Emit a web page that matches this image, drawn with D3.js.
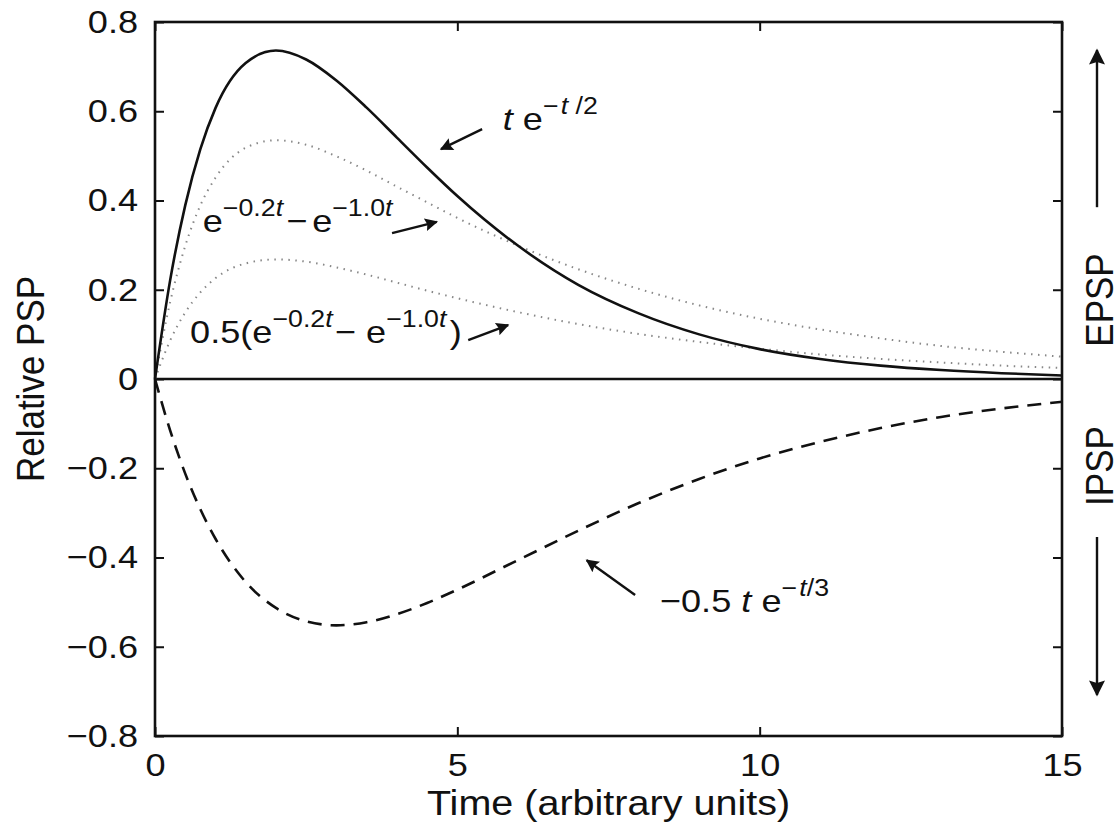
<!DOCTYPE html>
<html>
<head>
  <meta charset="utf-8">
  <title>PSP shapes</title>
  <script src="https://cdn.jsdelivr.net/npm/d3@7"></script>
  <style>
    body { margin: 0; background: #fff; }
    svg { overflow: visible; }
    text { font-family: "Liberation Sans", Arial, sans-serif; fill: #111; }
  </style>
</head>
<body>
  <svg width="1117" height="835" id="mainsvg"></svg>
  <script>
    // values
    const timePoints = [0, 0.25, 0.5, 0.75, 1, 1.5, 2, 2.5, 3, 3.5, 4, 4.5, 5, 6, 7, 8, 9, 10, 11, 12, 13, 14, 15];
    const alphaPsp = [0, 0.221, 0.389, 0.515, 0.607, 0.708, 0.736, 0.716, 0.669, 0.608, 0.541, 0.474, 0.410, 0.299, 0.211, 0.147, 0.100, 0.067, 0.045, 0.030, 0.020, 0.013, 0.008];
    const dualExpPsp = [0, 0.172, 0.298, 0.389, 0.451, 0.518, 0.535, 0.525, 0.499, 0.467, 0.431, 0.396, 0.361, 0.299, 0.246, 0.202, 0.165, 0.135, 0.111, 0.091, 0.074, 0.061, 0.050];
    const halfDualExpPsp = [0, 0.086, 0.149, 0.194, 0.226, 0.259, 0.268, 0.263, 0.250, 0.234, 0.216, 0.198, 0.181, 0.150, 0.123, 0.101, 0.083, 0.068, 0.055, 0.045, 0.037, 0.030, 0.025];
    const ipspValues = [0, -0.115, -0.212, -0.292, -0.358, -0.455, -0.513, -0.543, -0.552, -0.545, -0.527, -0.502, -0.472, -0.406, -0.340, -0.278, -0.224, -0.178, -0.141, -0.110, -0.085, -0.066, -0.051];
    const xTicks = [0, 5, 10, 15];
    const yTicks = [-0.8, -0.6, -0.4, -0.2, 0, 0.2, 0.4, 0.6, 0.8];
    const yTickLabels = ['\u22120.8', '\u22120.6', '\u22120.4', '\u22120.2', '0', '0.2', '0.4', '0.6', '0.8'];

    const svg = d3.select('svg');
    const width = +svg.attr('width');
    const height = +svg.attr('height');
    const margin = { top: 22, right: 55, bottom: 99, left: 155 };
    const innerWidth = width - margin.left - margin.right;
    const innerHeight = height - margin.top - margin.bottom;
    const SX = 1.13; // the figure's text is a bit stretched sideways

    const x = d3.scaleLinear().domain([0, 15]).range([0, innerWidth]);
    const y = d3.scaleLinear().domain([-0.8, 0.8]).range([innerHeight, 0]);

    const g = svg.append('g')
      .attr('transform', `translate(${margin.left}, ${margin.top})`);

    // axes, ticks pointing inward
    const styleAxis = sel => {
      sel.select('.domain').remove();
      sel.selectAll('line').attr('stroke', '#111').attr('stroke-width', 2);
      sel.selectAll('text').attr('font-size', 32).attr('font-family', null).attr('fill', '#111')
        .attr('transform', `scale(${SX},1)`);
    };
    g.append('g').attr('transform', `translate(0, ${innerHeight})`)
      .call(d3.axisBottom(x).tickValues(xTicks).tickSize(-9).tickPadding(17).tickFormat(d3.format('d')))
      .call(styleAxis);
    g.append('g')
      .call(d3.axisTop(x).tickValues(xTicks).tickSize(-9).tickFormat(''))
      .call(styleAxis);
    g.append('g')
      .call(d3.axisLeft(y).tickValues(yTicks).tickSize(-9).tickPadding(15).tickFormat((d, i) => yTickLabels[i]))
      .call(styleAxis);
    g.append('g').attr('transform', `translate(${innerWidth}, 0)`)
      .call(d3.axisRight(y).tickValues(yTicks).tickSize(-9).tickFormat(''))
      .call(styleAxis);

    // zero line
    g.append('line')
      .attr('x1', 0).attr('x2', innerWidth)
      .attr('y1', y(0)).attr('y2', y(0))
      .attr('stroke', '#111').attr('stroke-width', 2.5);

    const line = d3.line()
      .x((d, i) => x(timePoints[i]))
      .y(d => y(d))
      .curve(d3.curveMonotoneX);

    const series = [
      { values: dualExpPsp, color: '#888', width: 2, dash: '1.5,5.5' },
      { values: halfDualExpPsp, color: '#888', width: 2, dash: '1.5,5.5' },
      { values: alphaPsp, color: '#111', width: 2.6, dash: null },
      { values: ipspValues, color: '#111', width: 2.6, dash: '14,9' }
    ];
    g.selectAll('.curve')
      .data(series)
      .join('path')
      .attr('class', 'curve')
      .attr('d', d => line(d.values))
      .attr('fill', 'none')
      .attr('stroke', d => d.color)
      .attr('stroke-width', d => d.width)
      .attr('stroke-dasharray', d => d.dash);

    // frame
    g.append('rect')
      .attr('width', innerWidth).attr('height', innerHeight)
      .attr('fill', 'none').attr('stroke', '#111').attr('stroke-width', 2.6);

    // arrowhead markers
    const defs = svg.append('defs');
    const addHead = (id, w, h) => defs.append('marker')
      .attr('id', id)
      .attr('viewBox', '0 0 10 10')
      .attr('refX', 9).attr('refY', 5)
      .attr('markerUnits', 'userSpaceOnUse')
      .attr('markerWidth', w).attr('markerHeight', h)
      .attr('orient', 'auto')
      .append('path').attr('d', 'M0,0 L10,5 L0,10 L1.5,5 Z').attr('fill', '#111');
    addHead('head', 19, 13);
    addHead('bighead', 23, 16);

    const arrow = (x1, y1, x2, y2, head = 'head') => g.append('line')
      .attr('x1', x1).attr('y1', y1).attr('x2', x2).attr('y2', y2)
      .attr('stroke', '#111').attr('stroke-width', 2.4)
      .attr('marker-end', `url(#${head})`);

    // text pieces: [string, superscript?, italic?, dx]
    const label = (px, py, parts, size = 32) => {
      const t = g.append('text')
        .attr('transform', `translate(${px}, ${py}) scale(${SX},1)`)
        .attr('font-size', size);
      let up = false;
      parts.forEach(([s, sup, ital, dx]) => {
        const sp = t.append('tspan').text(s);
        if (sup && !up) { sp.attr('dy', -16); up = true; }
        if (!sup && up) { sp.attr('dy', 16); up = false; }
        if (sup) sp.attr('font-size', size * 0.74);
        if (ital) sp.attr('font-style', 'italic');
        if (dx) sp.attr('dx', dx);
      });
      return t;
    };

    // annotations anchored in data units
    label(x(5.75), y(0.558), [['t', 0, 1], [' e', 0, 0], ['\u2212', 1, 0], ['t', 1, 1, 2], [' /2', 1, 0]]);
    arrow(x(5.41), y(0.56), x(4.73), y(0.515));

    label(x(0.79), y(0.329), [['e', 0, 0], ['\u22120.2', 1, 0], ['t', 1, 1], ['\u2212', 0, 0, 3], ['e', 0, 0, 4], ['\u22121.0', 1, 0], ['t', 1, 1]]);
    arrow(x(3.92), y(0.327), x(4.66), y(0.352));

    label(x(0.58), y(0.081), [['0.5(e', 0, 0], ['\u22120.2', 1, 0], ['t', 1, 1], ['\u2212', 0, 0, 2], [' e', 0, 0], ['\u22121.0', 1, 0], ['t', 1, 1], [')', 0, 0, 3]]);
    arrow(x(5.18), y(0.087), x(5.84), y(0.121));

    label(x(8.35), y(-0.522), [['\u22120.5 ', 0, 0], ['t', 0, 1], [' e', 0, 0], ['\u2212', 1, 0], ['t', 1, 1, 2], ['/3', 1, 0]]);
    arrow(x(7.94), y(-0.484), x(7.14), y(-0.406));

    // axis titles
    svg.append('text')
      .attr('transform', `translate(${margin.left + innerWidth / 2}, 815) scale(${SX},1)`)
      .attr('text-anchor', 'middle').attr('font-size', 35)
      .text('Time (arbitrary units)');
    svg.append('text')
      .attr('transform', `translate(44, ${margin.top + innerHeight / 2}) scale(${SX},1) rotate(-90)`)
      .attr('text-anchor', 'middle').attr('font-size', 35)
      .text('Relative PSP');

    // EPSP / IPSP side markers
    const sideX = innerWidth + 35;
    g.append('text')
      .attr('transform', `translate(${sideX + 16}, ${y(0.177)}) scale(${SX},1) rotate(-90)`)
      .attr('text-anchor', 'middle').attr('font-size', 35)
      .text('EPSP');
    g.append('text')
      .attr('transform', `translate(${sideX + 16}, ${y(-0.195)}) scale(${SX},1) rotate(-90)`)
      .attr('text-anchor', 'middle').attr('font-size', 35)
      .text('IPSP');
    arrow(sideX, y(0.385), sideX, y(0.737), 'bighead');
    arrow(sideX, y(-0.354), sideX, y(-0.708), 'bighead');
  </script>
</body>
</html>
